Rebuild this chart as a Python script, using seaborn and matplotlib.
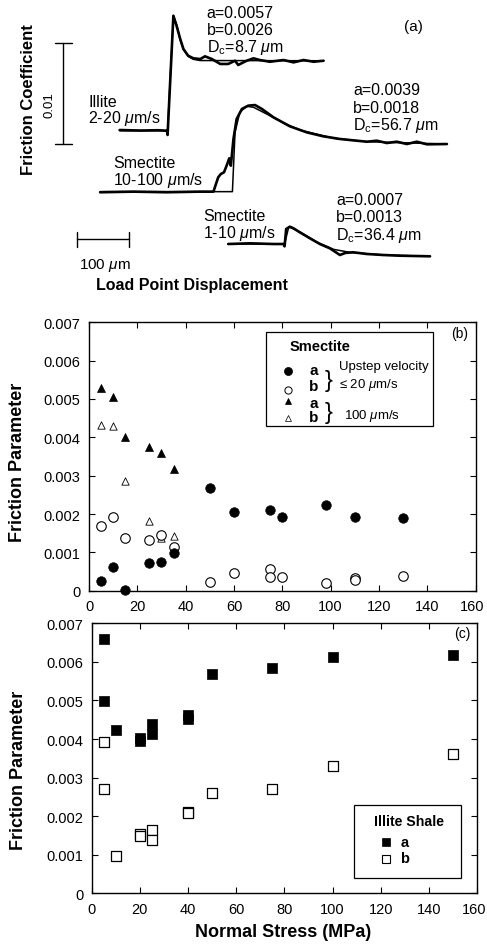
import matplotlib
matplotlib.use("Agg")
import matplotlib.pyplot as plt
import matplotlib.transforms as mtransforms
import seaborn as sns
import pandas as pd
from matplotlib.lines import Line2D
from matplotlib.patches import Rectangle

# ---------------- data ----------------
# Panel (a): friction traces, load-point displacement (um) vs friction (offset)
illite_data_x = [227, 266, 300, 317, 318, 329, 335, 342, 348, 357, 367, 380, 389, 402, 418, 433,
                 446, 452, 468, 481, 493, 512, 538, 557, 576, 595, 614]
illite_data_y = [0.01678, 0.01673, 0.01676, 0.01671, 0.01629, 0.02813, 0.02714, 0.02582, 0.02483,
                 0.02416, 0.02390, 0.02383, 0.02410, 0.02383, 0.02334, 0.02334, 0.02366, 0.02324,
                 0.02366, 0.02390, 0.02373, 0.02356, 0.02373, 0.02350, 0.02373, 0.02356, 0.02366]
illite_fit_x = [227, 318, 329, 336, 342, 348, 357, 367, 380, 614]
illite_fit_y = [0.01671, 0.01671, 0.02810, 0.02710, 0.02570, 0.02480, 0.02410, 0.02380, 0.02368, 0.02366]

smec100_data_x = [190, 253, 316, 380, 405, 414, 419, 425, 430, 435, 438, 443, 449, 459, 471, 484,
                  497, 519, 550, 582, 613, 645, 677, 696, 715, 734, 753, 772, 791, 810, 848]
smec100_data_y = [0.01060, 0.01066, 0.01060, 0.01066, 0.01066, 0.01208, 0.01241, 0.01258, 0.01324,
                  0.01397, 0.01324, 0.01589, 0.01787, 0.01887, 0.01920, 0.01926, 0.01887, 0.01804,
                  0.01715, 0.01655, 0.01616, 0.01589, 0.01572, 0.01562, 0.01572, 0.01549, 0.01562,
                  0.01539, 0.01562, 0.01536, 0.01539]
smec100_fit_x = [190, 441, 446, 455, 468, 481, 506, 538, 569, 633, 696, 848]
smec100_fit_y = [0.01066, 0.01066, 0.01655, 0.01854, 0.01914, 0.01904, 0.01837, 0.01748, 0.01678,
                 0.01596, 0.01562, 0.01539]

smec10_data_x = [433, 474, 519, 538, 540, 543, 550, 557, 569, 588, 607, 626, 645, 655, 670, 696,
                 727, 759, 816]
smec10_data_y = [0.00546, 0.00553, 0.00546, 0.00546, 0.00523, 0.00695, 0.00718, 0.00702, 0.00662,
                 0.00603, 0.00546, 0.00503, 0.00437, 0.00457, 0.00464, 0.00447, 0.00437, 0.00430,
                 0.00424]
smec10_fit_x = [433, 540, 548, 569, 601, 633, 664, 727, 816]
smec10_fit_y = [0.00546, 0.00546, 0.00718, 0.00666, 0.00566, 0.00493, 0.00463, 0.00437, 0.00424]

# Panel (b): Smectite, normal stress (MPa) vs friction parameter
smec_low_a_x = [5, 10, 15, 25, 30, 35, 50, 60, 75, 80, 98, 110, 130]
smec_low_a = [0.00026, 0.00062, 0.00002, 0.00071, 0.00075, 0.00098, 0.00269, 0.00205, 0.00210,
              0.00193, 0.00224, 0.00191, 0.00189]
smec_low_b_x = [5, 10, 15, 25, 30, 35, 50, 60, 75, 75, 80, 98, 110, 110, 130]
smec_low_b = [0.00169, 0.00191, 0.00137, 0.00132, 0.00146, 0.00113, 0.00023, 0.00046, 0.00057,
              0.00036, 0.00035, 0.00019, 0.00033, 0.00029, 0.00038]
smec_high_x = [5, 10, 15, 25, 30, 35]
smec_high_a = [0.00529, 0.00506, 0.00402, 0.00375, 0.00360, 0.00318]
smec_high_b = [0.00433, 0.00429, 0.00287, 0.00183, 0.00138, 0.00143]

# Panel (c): Illite shale
illite_x = [5, 5, 10, 20, 20, 25, 25, 40, 40, 50, 75, 100, 150]
illite_a = [0.00659, 0.00498, 0.00424, 0.00394, 0.00402, 0.00438, 0.00412, 0.00463, 0.00451,
            0.00568, 0.00584, 0.00613, 0.00617]
illite_b = [0.00393, 0.00271, 0.00097, 0.00155, 0.00149, 0.00165, 0.00139, 0.00212, 0.00209,
            0.00260, 0.00271, 0.00330, 0.00362]

x_ticks = [0, 20, 40, 60, 80, 100, 120, 140, 160]
y_ticks = [0, 0.001, 0.002, 0.003, 0.004, 0.005, 0.006, 0.007]
y_tick_labels = ["0", "0.001", "0.002", "0.003", "0.004", "0.005", "0.006", "0.007"]

# ---------------- style ----------------
sns.set_style("ticks")
plt.rcParams["font.family"] = ["Liberation Sans", "DejaVu Sans"]
plt.rcParams["mathtext.fontset"] = "custom"
plt.rcParams["mathtext.rm"] = "Liberation Sans"
plt.rcParams["mathtext.it"] = "Liberation Sans:italic"
plt.rcParams["mathtext.bf"] = "Liberation Sans:bold"
plt.rcParams["text.color"] = "black"
plt.rcParams["axes.labelcolor"] = "black"
plt.rcParams["xtick.color"] = "black"
plt.rcParams["ytick.color"] = "black"
plt.rcParams["axes.edgecolor"] = "black"

W, H = 487, 953
fig = plt.figure(figsize=(W / 100, H / 100), dpi=100)
fig.patch.set_facecolor("white")


def T(px, py, s, **kw):
    return fig.text(px / W, 1 - py / H, s, color="black", **kw)


def fig_marker(px, py, **kw):
    fig.add_artist(Line2D([px / W], [1 - py / H], transform=fig.transFigure,
                          linestyle="none", **kw))


def fig_box(x0, y0, x1, y1):
    fig.add_artist(Rectangle((x0 / W, 1 - y1 / H), (x1 - x0) / W, (y1 - y0) / H,
                             transform=fig.transFigure, fill=False, ec="black", lw=0.9))


# ---------------- panel (a) ----------------
UM = 100 / 52.7      # um per pixel
MU = 0.01 / 100.7    # friction per pixel
ax_a = fig.add_axes([0, 1 - 300 / H, 1, 300 / H])
ax_a.set_xlim(0, W * UM)
ax_a.set_ylim(0, 300 * MU)
ax_a.axis("off")

for dx, dy, fx_, fy_ in [(illite_data_x, illite_data_y, illite_fit_x, illite_fit_y),
                         (smec100_data_x, smec100_data_y, smec100_fit_x, smec100_fit_y),
                         (smec10_data_x, smec10_data_y, smec10_fit_x, smec10_fit_y)]:
    sns.lineplot(x=dx, y=dy, ax=ax_a, color="black", lw=1.9, sort=False, estimator=None)
    sns.lineplot(x=fx_, y=fy_, ax=ax_a, color="black", lw=1.1, sort=False, estimator=None)

# scale bars
ax_a.plot([120.1, 120.1], [0.01539, 0.02539], color="black", lw=1)
ax_a.plot([104.4, 136.0], [0.01539, 0.01539], color="black", lw=1)
ax_a.plot([104.4, 136.0], [0.02539, 0.02539], color="black", lw=1)
ax_a.plot([145.5, 245.5], [0.00596, 0.00596], color="black", lw=1)
ax_a.plot([145.5, 145.5], [0.00513, 0.00662], color="black", lw=1)
ax_a.plot([245.5, 245.5], [0.00513, 0.00662], color="black", lw=1)

fs_a = 11.5
for x0, ys, lines in [
    (206.7, (18.3, 35.0, 51.7), ("a=0.0057", "b=0.0026", r"D$_\mathrm{c}$=8.7 $\mu$m")),
    (353.3, (95.0, 112.7, 130.0), ("a=0.0039", "b=0.0018", r"D$_\mathrm{c}$=56.7 $\mu$m")),
    (336.0, (205.0, 222.3, 240.0), ("a=0.0007", "b=0.0013", r"D$_\mathrm{c}$=36.4 $\mu$m")),
    (88.3, (106.7, 123.3), ("Illite", r"2-20 $\mu$m/s")),
    (113.3, (167.7, 185.0), ("Smectite", r"10-100 $\mu$m/s")),
    (203.3, (221.0, 237.7), ("Smectite", r"1-10 $\mu$m/s")),
]:
    for yy, s in zip(ys, lines):
        T(x0, yy, s, ha="left", va="baseline", fontsize=fs_a)

T(413, 27, "(a)", ha="center", va="center", fontsize=11)
T(28.3, 100, "Friction Coefficient", ha="center", va="center", rotation=90,
  fontsize=12, fontweight="bold")
T(49.3, 105, "0.01", ha="center", va="center", rotation=90, fontsize=9.5)
T(105, 265, r"100 $\mu$m", ha="center", va="center", fontsize=11)
T(192, 286, "Load Point Displacement", ha="center", va="center", fontsize=11.5,
  fontweight="bold")


# ---------------- panels (b), (c) ----------------
def style_axis(ax):
    ax.set_xlim(0, 160)
    ax.set_ylim(0, 0.007)
    ax.set_xticks(x_ticks)
    ax.set_xticklabels([str(v) for v in x_ticks])
    ax.set_yticks(y_ticks)
    ax.set_yticklabels(y_tick_labels)
    ax.tick_params(direction="in", top=True, right=True, length=4.5, width=0.8,
                   labelsize=10.5, pad=6, colors="black")
    for sp in ax.spines.values():
        sp.set_linewidth(1.0)
        sp.set_color("black")
    ax.set_xlabel("")
    ax.set_ylabel("")


ax_b = fig.add_axes([89 / W, 1 - 591.7 / H, (475.5 - 89) / W, (591.7 - 323.3) / H])
style_axis(ax_b)
sns.scatterplot(x=smec_high_x, y=smec_high_b, ax=ax_b, marker="^", s=28, color="white",
                edgecolor="black", linewidth=0.6, clip_on=False, zorder=3)
sns.scatterplot(x=smec_low_b_x, y=smec_low_b, ax=ax_b, marker="o", s=47, color="white",
                edgecolor="black", linewidth=0.8, clip_on=False, zorder=3)
sns.scatterplot(x=smec_low_a_x, y=smec_low_a, ax=ax_b, marker="o", s=47, color="black",
                edgecolor="black", linewidth=0.5, clip_on=False, zorder=4)
sns.scatterplot(x=smec_high_x, y=smec_high_a, ax=ax_b, marker="^", s=33, color="black",
                edgecolor="black", linewidth=0.5, clip_on=False, zorder=4)
style_axis(ax_b)

ax_c = fig.add_axes([91.5 / W, 1 - 894.3 / H, (477.3 - 91.5) / W, (894.3 - 624.3) / H])
style_axis(ax_c)
sns.scatterplot(x=illite_x, y=illite_b, ax=ax_c, marker="s", s=45, color="white",
                edgecolor="black", linewidth=0.9, clip_on=False, zorder=3)
sns.scatterplot(x=illite_x, y=illite_a, ax=ax_c, marker="s", s=59, color="black",
                edgecolor="black", linewidth=0.5, clip_on=False, zorder=4)
style_axis(ax_c)

# keep the last x tick label of each lower axis inside the figure edge
for ax in (ax_b, ax_c):
    last = ax.get_xticklabels()[-1]
    last.set_transform(last.get_transform() +
                       mtransforms.ScaledTranslation(-3 / 100, 0, fig.dpi_scale_trans))

T(17.3, 462.7, "Friction Parameter", ha="center", va="center", rotation=90,
  fontsize=13, fontweight="bold")
T(19, 770, "Friction Parameter", ha="center", va="center", rotation=90,
  fontsize=13, fontweight="bold")
T(283.3, 933, "Normal Stress (MPa)", ha="center", va="center", fontsize=13,
  fontweight="bold")
T(460, 334, "(b)", ha="center", va="center", fontsize=10)
T(462.7, 634.3, "(c)", ha="center", va="center", fontsize=10)

# legend (b)
fig_box(266, 333.3, 433, 426.7)
T(320, 347.3, "Smectite", ha="center", va="center", fontsize=10.5, fontweight="bold")
fig_marker(288, 371.7, marker="o", markersize=5.8, mfc="black", mec="black", mew=0.5)
fig_marker(288, 390.7, marker="o", markersize=5.2, mfc="white", mec="black", mew=0.7)
fig_marker(288, 401.7, marker="^", markersize=4.6, mfc="black", mec="black", mew=0.5)
fig_marker(288, 419.3, marker="^", markersize=4.6, mfc="white", mec="black", mew=0.5)
for yy, s in [(370.7, "a"), (387.3, "b"), (404.0, "a"), (418.3, "b")]:
    T(313.7, yy, s, ha="center", va="center", fontsize=11, fontweight="bold")
T(328.7, 380.8, "}", ha="center", va="center", fontsize=17)
T(328.7, 413.0, "}", ha="center", va="center", fontsize=17)
T(338.7, 366.7, "Upstep velocity", ha="left", va="center", fontsize=9.5)
T(338.7, 385.0, r"≤ 20 $\mu$m/s", ha="left", va="center", fontsize=9.5)
T(343.7, 416.0, r"100 $\mu$m/s", ha="left", va="center", fontsize=9.5)

# legend (c)
fig_box(354, 806, 460.7, 879)
T(409.3, 821.7, "Illite Shale", ha="center", va="center", fontsize=10.2, fontweight="bold")
fig_marker(386, 843.3, marker="s", markersize=6.3, mfc="black", mec="black", mew=0.5)
fig_marker(386, 860.0, marker="s", markersize=5.8, mfc="white", mec="black", mew=0.8)
T(404.3, 842.7, "a", ha="center", va="center", fontsize=10.5, fontweight="bold")
T(404.3, 859.3, "b", ha="center", va="center", fontsize=10.5, fontweight="bold")

fig.savefig("out.png", dpi=100)
